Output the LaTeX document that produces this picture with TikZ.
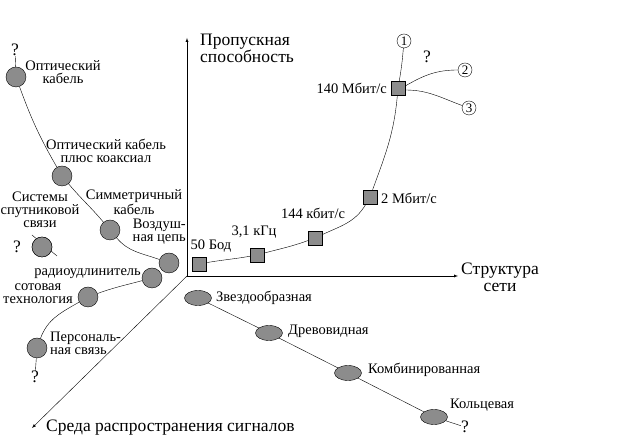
\documentclass[tikz,border=0pt]{standalone}
\usepackage{fontspec}
\setmainfont{Liberation Serif}
\usetikzlibrary{arrows,shapes.geometric}

\begin{document}
\begin{tikzpicture}[x=1pt, y=1pt,
                            sq/.style={draw=black, fill=black!45, minimum size=14pt, inner sep=0pt},
                            blob/.style={circle, draw=black, fill=black!45, minimum size=20pt, inner sep=0pt},
                            oval/.style={ellipse, draw=black, fill=black!45, minimum width=27pt, minimum height=15pt, inner sep=0pt},
                            num/.style={circle, draw=black, minimum size=14pt, inner sep=0pt, font=\fontsize{13}{13}\selectfont},
                            lbl/.style={inner sep=0pt, font=\fontsize{14.5}{13}\selectfont},
                            big/.style={inner sep=0pt, font=\fontsize{17.5}{17}\selectfont}]
                            \useasboundingbox (0,0) rectangle (640,438);
                            % axes
                            \coordinate (o) at (187,162);
                            \coordinate (up) at (187,400);
                            \coordinate (right) at (458,162);
                            \coordinate (down) at (32,10);
                            \draw[-latex] (o) -- (up);
                            \draw[-latex] (o) -- (right);
                            \draw[-latex] (o) -- (down);
                            \node[big, anchor=west, align=left] (ylab) at (200,390) {Пропускная\\способность};
                            \node[big, align=center] (xlab) at (500,161) {Структура\\сети};
                            \node[big, anchor=west] (zlab) at (46,10) {Среда распространения сигналов};
                            % capacity
                            \node[sq] (q50) at (199,174) {};
                            \node[sq] (q31) at (257,183) {};
                            \node[sq] (q144) at (315,200) {};
                            \node[sq] (q2M) at (370,241) {};
                            \node[sq] (q140) at (398,350) {};
                            \node[lbl] (l50) at (211,192) {50 Бод};
                            \node[lbl] (l31) at (254,206) {3,1 кГц};
                            \node[lbl] (l144) at (313,225) {144 кбит/с};
                            \node[lbl, anchor=west] (l2M) at (381,240) {2 Мбит/с};
                            \node[lbl, anchor=east] (l140) at (387,350) {140 Мбит/с};
                            \node[num] (c1) at (404,397) {1};
                            \node[num] (c2) at (465,368) {2};
                            \node[num] (c3) at (469,330) {3};
                            \node[big] (qc) at (427,381) {?};
                            \draw (q50) to[out=10,in=190] (q31);
                            \draw (q31) to[out=15,in=200] (q144);
                            \draw (q144) to[out=25,in=240] (q2M);
                            \draw (q2M) to[out=70,in=265] (q140);
                            \draw (q140) to[out=80,in=265] (c1);
                            \draw (q140.east) ++(0,2) coordinate (q140a) (q140a) to[out=30,in=180] (c2);
                            \draw (q140.east) ++(0,-2) coordinate (q140b) (q140b) to[out=0,in=160] (c3);
                            % media
                            \node[blob] (ok) at (16,361) {};
                            \node[blob] (okk) at (62,262) {};
                            \node[blob] (sym) at (110,208) {};
                            \node[blob] (air) at (169,175) {};
                            \node[blob] (radio) at (152,160) {};
                            \node[blob] (cell) at (88,141) {};
                            \node[blob] (pers) at (37,90) {};
                            \node[blob] (sat) at (42,191) {};
                            \node[big] (qok) at (15,388) {?};
                            \node[big] (qpers) at (35,61) {?};
                            \node[big] (qsat) at (17,191) {?};
                            \node[lbl, align=center] (lok) at (63,366) {Оптический\\кабель};
                            \node[lbl, align=center] (lokk) at (106,287) {Оптический кабель\\плюс коаксиал};
                            \node[lbl, align=center] (lsym) at (134,236) {Симметричный\\кабель};
                            \node[lbl, align=right, anchor=east] (lair) at (186,206) {Воздуш-\\ная цепь};
                            \node[lbl, anchor=east] (lradio) at (141,164) {радиоудлинитель};
                            \node[lbl, align=center] (lcell) at (38,144) {сотовая\\технология};
                            \node[lbl, align=left, anchor=west] (lpers) at (50,95) {Персональ-\\ная связь};
                            \node[lbl, align=center] (lsat) at (40,228) {Системы\\спутниковой\\связи};
                            \draw (ok) -- (qok);
                            \draw (ok) to[out=-70,in=120] (okk);
                            \draw (okk) to[out=-50,in=130] (sym);
                            \draw (sym) to[out=-50,in=160] (air);
                            \draw (radio) to[out=195,in=20] (cell);
                            \draw (cell) to[out=210,in=70] (pers);
                            \draw (pers) -- (qpers);
                            \coordinate (sa) at (32,203);
                            \coordinate (sb) at (57,182);
                            \draw (sa) -- (sb);
                            \node[blob] at (sat) {};
                            % structure
                            \node[oval] (e1) at (198,140) {};
                            \node[oval] (e2) at (269,105) {};
                            \node[oval] (e3) at (348,65) {};
                            \node[oval] (e4) at (434,21) {};
                            \node[lbl, anchor=west] (le1) at (216,140) {Звездообразная};
                            \node[lbl, anchor=west] (le2) at (288,107) {Древовидная};
                            \node[lbl, anchor=west] (le3) at (368,68) {Комбинированная};
                            \node[lbl, anchor=west] (le4) at (450,33) {Кольцевая};
                            \node[big] (qe4) at (465,11) {?};
                            \draw (e1) -- (e2) -- (e3) -- (e4) -- (qe4);
                        \end{tikzpicture}
\end{document}
